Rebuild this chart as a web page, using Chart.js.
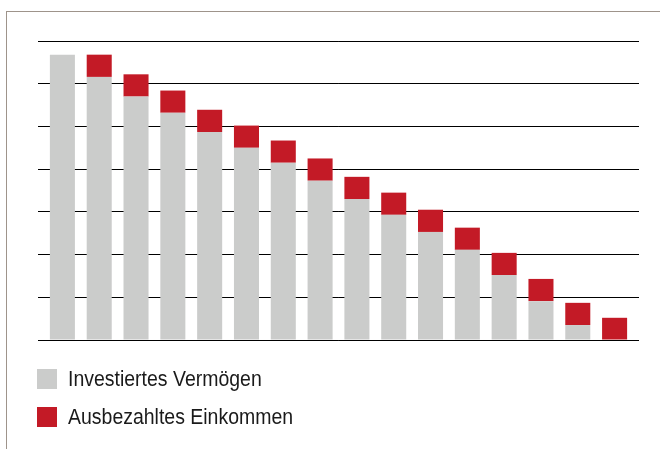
<!DOCTYPE html>
<html>
<head>
<meta charset="utf-8">
<script src="https://cdn.jsdelivr.net/npm/chart.js@4"></script>
<style>
html,body{margin:0;padding:0;background:#fff;}
#wrap{position:relative;width:660px;height:449px;overflow:hidden;}
#frame{position:absolute;left:6px;top:11px;right:-2px;bottom:-2px;border-left:1px solid #9e948b;border-top:1px solid #9e948b;}
canvas{position:absolute;left:0;top:0;}
#legend{position:absolute;left:37px;top:369px;font-family:"Liberation Sans",Arial,sans-serif;font-size:22px;color:#1a1a1a;}
.item{display:flex;align-items:center;height:20px;margin-bottom:18px;white-space:nowrap;}
.box{width:20px;height:20px;margin-right:11px;flex:none;}
.txt{display:inline-block;transform:scaleX(0.885);transform-origin:left center;}
</style>
</head>
<body>
<div id="wrap">
<div id="frame"></div>
<canvas id="chart" width="660" height="449"></canvas>
<div id="legend"></div>
</div>
<script>
// one grid step = 1 unit
const years=["1","2","3","4","5","6","7","8","9","10","11","12","13","14","15","16"];
const investiert=[6.68,6.16,5.70,5.32,4.87,4.50,4.15,3.73,3.30,2.93,2.53,2.11,1.52,0.91,0.35,0];
const einkommen=[0,0.52,0.52,0.52,0.52,0.52,0.52,0.52,0.52,0.52,0.52,0.52,0.52,0.52,0.52,0.52];
const seriesNames=["Investiertes Vermögen","Ausbezahltes Einkommen"];
const seriesColors=["#cbcccb","#c31a26"];

const grid={color:"#000",lineWidth:1,drawTicks:true,tickLength:6};

const chart=new Chart(document.getElementById("chart"),{
type:"bar",
data:{
labels:years,
datasets:[
{label:seriesNames[0],data:investiert,backgroundColor:seriesColors[0]},
{label:seriesNames[1],data:einkommen,backgroundColor:seriesColors[1]}
]
},
options:{
responsive:false,
animation:false,
layout:{padding:{left:38,right:21,top:41,bottom:109}},
datasets:{bar:{barPercentage:0.68,categoryPercentage:1}},
plugins:{legend:{display:false},tooltip:{enabled:false}},
scales:{
x:{stacked:true,display:false},
y:{stacked:true,min:0,max:7,ticks:{display:false,stepSize:1},grid:grid,border:{display:false}},
y2:{position:"right",min:0,max:7,ticks:{display:false,stepSize:1},grid:grid,border:{display:false}}
}
}
});

const legend=document.getElementById("legend");
chart.data.datasets.forEach(ds=>{
const item=document.createElement("div");
item.className="item";
item.innerHTML=`<span class="box" style="background:${ds.backgroundColor}"></span><span class="txt">${ds.label}</span>`;
legend.appendChild(item);
});
</script>
</body>
</html>
